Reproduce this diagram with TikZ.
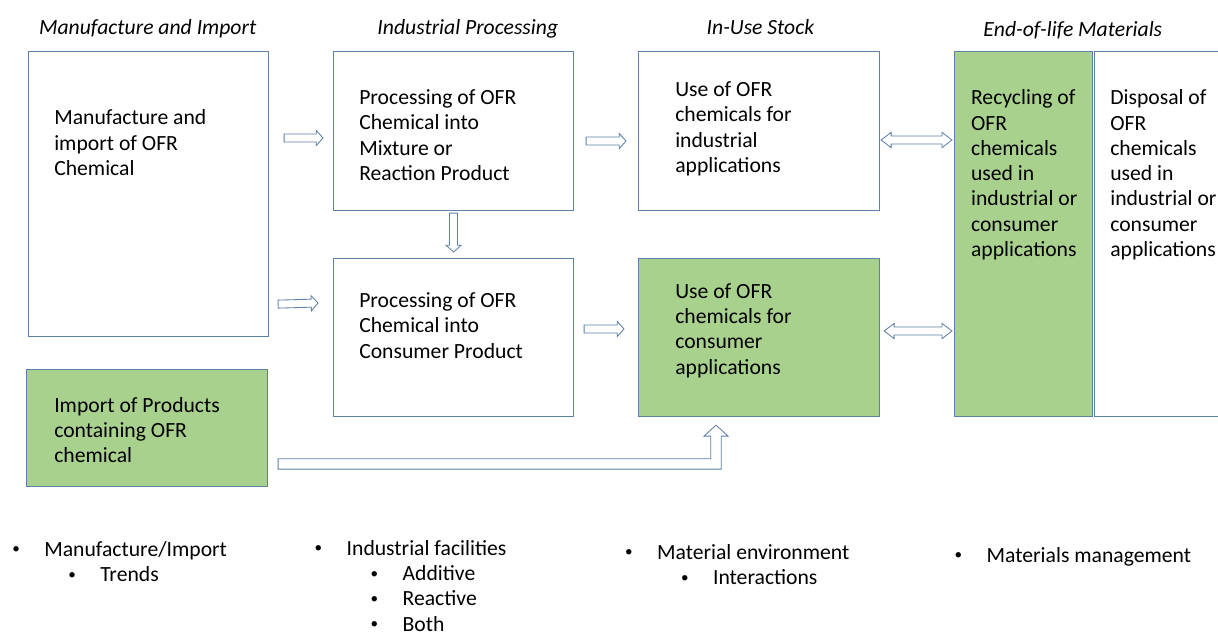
\documentclass[tikz,border=0pt]{standalone}
\usepackage{fontspec}
\setmainfont{Carlito}
\usetikzlibrary{calc,positioning}

\definecolor{boxline}{HTML}{5E80A8}
\definecolor{boxgreen}{HTML}{A9D18E}

% hollow block arrow from tail to tip
\newcommand{\hollowarrow}[2]{%
  \coordinate (atail) at (#1);
  \coordinate (atip) at (#2);
  \coordinate (abase) at ($(atip)!0.17cm!(atail)$);
  \draw[arrowline] ($(atail)!0.1cm!90:(atip)$) -- ($(abase)!0.1cm!90:(atip)$)
    -- ($(abase)!0.19cm!90:(atip)$) -- (atip) -- ($(abase)!0.19cm!-90:(atip)$)
    -- ($(abase)!0.1cm!-90:(atip)$) -- ($(atail)!0.1cm!-90:(atip)$) -- cycle;}

% hollow block arrow with heads at both ends
\newcommand{\bothwayarrow}[2]{%
  \coordinate (aleft) at (#1);
  \coordinate (aright) at (#2);
  \coordinate (lbase) at ($(aleft)!0.25cm!(aright)$);
  \coordinate (rbase) at ($(aright)!0.25cm!(aleft)$);
  \draw[arrowline] (aleft) -- ($(lbase)!0.19cm!90:(aright)$) -- ($(lbase)!0.1cm!90:(aright)$)
    -- ($(rbase)!0.1cm!90:(aright)$) -- ($(rbase)!0.19cm!90:(aright)$) -- (aright)
    -- ($(rbase)!0.19cm!-90:(aright)$) -- ($(rbase)!0.1cm!-90:(aright)$)
    -- ($(lbase)!0.1cm!-90:(aright)$) -- ($(lbase)!0.19cm!-90:(aright)$) -- cycle;}

% bullet items
\newcommand{\dotmark}{\raisebox{0.12em}{\scalebox{0.7}{\textbullet}}}
\newcommand{\itm}[1]{\makebox[0.8cm][l]{\dotmark}#1}
\newcommand{\subitm}[1]{\hspace*{1.4cm}\makebox[0.8cm][l]{\dotmark}#1}

\begin{document}
\begin{tikzpicture}[y=-1cm,
    every node/.style={font=\fontsize{15.4}{18}\selectfont},
    box/.style={draw=boxline, line width=0.8pt, rectangle, anchor=north west, inner sep=0pt},
    greenbox/.style={box, fill=boxgreen},
    txt/.style={anchor=north west, align=left, inner sep=0pt, execute at begin node=\strut},
    hdr/.style={anchor=base west, inner sep=0pt, font=\fontsize{15.4}{18}\selectfont\itshape},
    arrowline/.style={draw=boxline, line width=0.6pt, fill=white, line join=miter}]
    \useasboundingbox (0,0) rectangle (30.45,15.9);

    % Stage headings
    \node[hdr] (hmfg) at (0.97,0.87) {Manufacture and Import};
    \node[hdr] (hproc) at (9.43,0.87) {Industrial Processing};
    \node[hdr] (huse) at (17.66,0.87) {In-Use Stock};
    \node[hdr] (heol) at (24.58,0.9) {End-of-life Materials};

    % Boxes
    \node[box, minimum width=6cm, minimum height=7.125cm] (mfg) at (0.7,1.275) {};
    \node[box, minimum width=6cm, minimum height=3.975cm] (proc1) at (8.325,1.275) {};
    \node[box, minimum width=6cm, minimum height=3.95cm] (proc2) at (8.325,6.45) {};
    \node[box, minimum width=6.025cm, minimum height=3.975cm] (useind) at (15.95,1.275) {};
    \node[greenbox, minimum width=6.025cm, minimum height=3.95cm] (usecons) at (15.95,6.45) {};
    \node[greenbox, minimum width=3.45cm, minimum height=9.125cm] (recyc) at (23.85,1.275) {};
    \node[box, minimum width=3.6cm, minimum height=9.125cm] (disp) at (27.35,1.275) {};
    \node[greenbox, minimum width=6.025cm, minimum height=2.925cm] (import) at (0.65,9.225) {};

    % Box texts
    \node[txt] (mfgtext) at ([shift={(0.65,1.46)}]mfg.north west) {Manufacture and\\import of OFR\\Chemical};
    \node[txt] (proc1text) at ([shift={(0.65,0.96)}]proc1.north west) {Processing of OFR\\Chemical into\\Mixture or\\Reaction Product};
    \node[txt] (proc2text) at ([shift={(0.65,0.86)}]proc2.north west) {Processing of OFR\\Chemical into\\Consumer Product};
    \node[txt] (useindtext) at ([shift={(0.925,0.76)}]useind.north west) {Use of OFR\\chemicals for\\industrial\\applications};
    \node[txt] (useconstext) at ([shift={(0.925,0.63)}]usecons.north west) {Use of OFR\\chemicals for\\consumer\\applications};
    \node[txt] (recyctext) at ([shift={(0.42,0.96)}]recyc.north west) {Recycling of\\OFR\\chemicals\\used in\\industrial or\\consumer\\applications};
    \node[txt] (disptext) at ([shift={(0.4,0.96)}]disp.north west) {Disposal of\\OFR\\chemicals\\used in\\industrial or\\consumer\\applications};
    \node[txt] (importtext) at ([shift={(0.7,0.7)}]import.north west) {Import of Products\\containing OFR\\chemical};

    % Flows
    \hollowarrow{$(mfg.north east)+(0.375,2.175)$}{$(proc1.north west)+(-0.25,2.175)$}
    \hollowarrow{$(mfg.south east)+(0.225,-0.825)$}{$(proc2.north west)+(-0.375,1.125)$}
    \hollowarrow{$(proc1.north east)+(0.3,2.25)$}{$(useind.north west)+(-0.3,2.25)$}
    \hollowarrow{$(proc2.north east)+(0.25,1.775)$}{$(usecons.north west)+(-0.35,1.775)$}
    \hollowarrow{$(proc1.south)+(0,0.05)$}{$(proc2.north)+(0,-0.15)$}
    \bothwayarrow{$(useind.north east)+(0.025,2.225)$}{$(recyc.north west)+(-0.05,2.225)$}
    \bothwayarrow{$(usecons.north east)+(0.1,1.825)$}{$(recyc.north west)+(-0.05,7.0)$}

    % Bent arrow from imported products
    \coordinate (lt) at ($(import.south east)+(0.25,-0.58)$);
    \coordinate (lh) at ($(usecons.south west)+(1.95,0.2)$);
    \draw[arrowline] ($(lt)+(0,-0.13)$) -- ($(lh |- lt)+(-0.13,-0.13)$) -- ($(lh)+(-0.13,0.275)$)
      -- ($(lh)+(-0.3,0.275)$) -- (lh) -- ($(lh)+(0.3,0.275)$) -- ($(lh)+(0.13,0.275)$)
      -- ($(lh |- lt)+(0.13,0.13)$) -- ($(lt)+(0,0.13)$) -- cycle;

    % Notes below each stage
    \node[txt] (notemfg) at (0.3,13.53) {\itm{Manufacture/Import}\\\subitm{Trends}};
    \node[txt] (noteproc) at (7.86,13.5) {\itm{Industrial facilities}\\\subitm{Additive}\\\subitm{Reactive}\\\subitm{Both}};
    \node[txt] (noteuse) at (15.62,13.6) {\itm{Material environment}\\\subitm{Interactions}};
    \node[txt] (noteeol) at (23.86,13.6) {\itm{Materials management}};
\end{tikzpicture}
\end{document}
